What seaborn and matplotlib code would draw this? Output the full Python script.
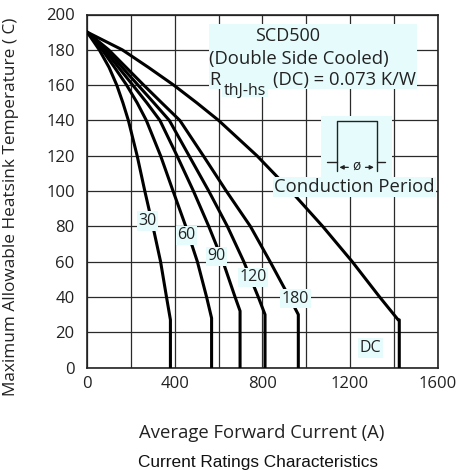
import matplotlib
matplotlib.use("Agg")
import matplotlib.pyplot as plt
import seaborn as sns
import pandas as pd
import numpy as np

# ---- data ----
curve_names = ["30", "60", "90", "120", "180", "DC"]

t_common = [190, 180, 170, 160, 150, 140, 120, 100, 80, 60, 40]

i_30 = [0, 55, 100, 135, 163, 188, 228, 263, 300, 335, 362, 380, 380]
t_30 = t_common + [27, 0]

i_60 = [0, 68, 125, 180, 228, 270, 335, 392, 450, 503, 545, 568, 568]
t_60 = t_common + [28, 0]

i_90 = [0, 78, 143, 208, 272, 332, 410, 485, 555, 620, 675, 698, 698]
t_90 = t_common + [32, 0]

i_120 = [0, 89, 160, 232, 304, 375, 465, 555, 640, 715, 781, 812, 812]
t_120 = t_common + [30, 0]

i_180 = [0, 98, 178, 258, 340, 423, 530, 635, 745, 835, 922, 964, 964]
t_180 = t_common + [30, 0]

i_dc = [0, 160, 280, 395, 500, 600, 775, 930, 1075, 1210, 1335, 1420, 1425, 1425]
t_dc = [190, 180, 170, 160, 150, 140, 120, 100, 80, 60, 40, 27, 27, 0]

# curve label positions (current, temperature)
label_i = [275, 454, 590, 758, 951, 1295]
label_t = [83, 75, 63, 51, 39, 11]

x_ticks = [0, 400, 800, 1200, 1600]
y_ticks = [0, 20, 40, 60, 80, 100, 120, 140, 160, 180, 200]

title_text = "Current Ratings Characteristics"
xlabel_text = "Average Forward Current (A)"
ylabel_text = "Maximum Allowable Heatsink Temperature ( C)"

# ---- build long-form table ----
series = [(i_30, t_30), (i_60, t_60), (i_90, t_90), (i_120, t_120), (i_180, t_180), (i_dc, t_dc)]
rows = []
for name, (ii, tt) in zip(curve_names, series):
    for k, (a, b) in enumerate(zip(ii, tt)):
        rows.append({"curve": name, "order": k, "I": a, "T": b})
df = pd.DataFrame(rows)

sns.set_theme(style="white")
plt.rcParams["font.family"] = ["Open Sans", "DejaVu Sans"]

fig = plt.figure(figsize=(4.61, 4.70), dpi=100)
ax = fig.add_axes([87.2 / 461, 1 - 367.5 / 470, (437.6 - 87.2) / 461, (367.5 - 14.5) / 470])

cyan = "#e6fbfb"
ink = "#222222"

sns.lineplot(data=df, x="I", y="T", units="curve", estimator=None, sort=False,
             color="black", lw=2.2, ax=ax, legend=False, zorder=3)
for ln in ax.lines:
    ln.set_solid_joinstyle("round")

ax.set_xlim(0, 1600)
ax.set_ylim(0, 200)
ax.set_xticks(x_ticks)
ax.set_xticks(np.arange(0, 1601, 200), minor=True)
ax.set_yticks(y_ticks)
ax.grid(True, which="both", color="#2a2a2a", lw=0.9, zorder=0)
ax.tick_params(which="both", length=0)
ax.tick_params(axis="x", pad=6, labelsize=12, colors=ink)
ax.tick_params(axis="y", pad=9, labelsize=12, colors=ink)
for s in ax.spines.values():
    s.set_color(ink)
    s.set_linewidth(1.2)
ax.set_xlabel("")
ax.set_ylabel("")

# curve labels
for name, li, lt in zip(curve_names, label_i, label_t):
    ax.text(li, lt, name, ha="center", va="center", fontsize=11.5, color=ink,
            zorder=5, bbox=dict(boxstyle="square,pad=0.1", fc=cyan, ec="none"))

# annotation block
ax.add_patch(plt.Rectangle((557, 158), 1507 - 557, 194.5 - 158, fc=cyan, ec="none", zorder=4))
ax.add_patch(plt.Rectangle((616, 153.1), 826 - 616, 160.5 - 153.1, fc=cyan, ec="none", zorder=4))
ax.text(915, 187.9, "SCD500", ha="center", va="center", fontsize=13, color=ink, zorder=5)
ax.text(557, 175, "(Double Side Cooled)", ha="left", va="center", fontsize=13.3, color=ink, zorder=5)
ax.text(557, 162.8, "R", ha="left", va="center", fontsize=13.3, color=ink, zorder=5)
ax.text(622, 156.8, "thJ-hs", ha="left", va="center", fontsize=11.5, color=ink, zorder=5)
ax.text(847, 162.8, "(DC) = 0.073 K/W", ha="left", va="center", fontsize=13.3, color=ink, zorder=5)

# conduction period inset
ax.add_patch(plt.Rectangle((1069, 107.4), 1391 - 1069, 142.3 - 107.4, fc=cyan, ec="none", zorder=4))
ax.plot([1139, 1139, 1322, 1322], [111.2, 139.6, 139.6, 111.2], color=ink, lw=1.0, zorder=5)
ax.plot([1093, 1139], [116.5, 116.5], color=ink, lw=1.0, zorder=5)
ax.plot([1322, 1360], [116.5, 116.5], color=ink, lw=1.0, zorder=5)
ax.annotate("", xy=(1139, 113.4), xytext=(1205, 113.4),
            arrowprops=dict(arrowstyle="-|>", color=ink, lw=0.9, mutation_scale=6), zorder=5)
ax.annotate("", xy=(1322, 113.4), xytext=(1258, 113.4),
            arrowprops=dict(arrowstyle="-|>", color=ink, lw=0.9, mutation_scale=6), zorder=5)
ax.text(1231, 113.8, "ø", ha="center", va="center", fontsize=10, color=ink, zorder=6)
ax.text(1220, 102.2, "Conduction Period", ha="center", va="center", fontsize=13.3,
        color=ink, zorder=6, bbox=dict(boxstyle="square,pad=0.05", fc=cyan, ec="none"))

# axis labels
fig.text(262 / 461, 1 - 433 / 470, xlabel_text, ha="center", va="center", fontsize=13.3, color=ink)
fig.text(11 / 461, 1 - 207 / 470, ylabel_text, ha="center", va="center", rotation=90,
         fontsize=12.4, color=ink)
fig.text(258 / 461, 1 - 462 / 470, title_text, ha="center", va="center", fontsize=12.4,
         color="#111111", family=["Liberation Sans", "DejaVu Sans"])

fig.savefig("out.png", dpi=100, facecolor="white")
